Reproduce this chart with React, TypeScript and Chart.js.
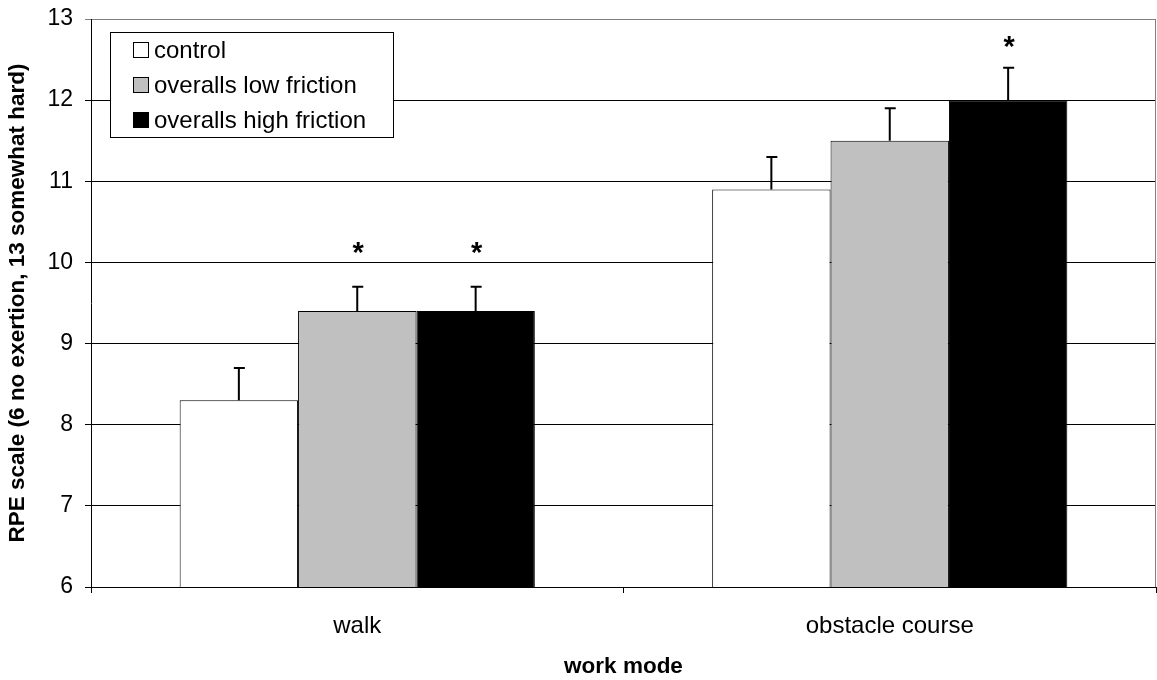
import { useEffect, useRef } from "react";
import { Chart, registerables } from "chart.js";

Chart.register(...registerables);

// Work modes on the x axis
const categories = ["walk", "obstacle course"];

// Series names and fills
const seriesNames = ["control", "overalls low friction", "overalls high friction"];
const seriesColors = ["#ffffff", "#c0c0c0", "#000000"];

// Mean RPE per work mode
const controlValues = [8.3, 10.9];
const lowFrictionValues = [9.4, 11.5];
const highFrictionValues = [9.4, 12.0];

// Upward error (SD) per work mode
const controlErrors = [0.4, 0.4];
const lowFrictionErrors = [0.3, 0.4];
const highFrictionErrors = [0.3, 0.4];

// Height of the significance asterisk per work mode (null = not significant)
const controlStars: (number | null)[] = [null, null];
const lowFrictionStars: (number | null)[] = [10.18, null];
const highFrictionStars: (number | null)[] = [10.18, 12.72];

// Y axis ticks
const yTicks = [6, 7, 8, 9, 10, 11, 12, 13];

const FONT = "'Liberation Sans', Arial, Helvetica, sans-serif";

const errorSets = [controlErrors, lowFrictionErrors, highFrictionErrors];
const starSets = [controlStars, lowFrictionStars, highFrictionStars];

// Error bars, asterisks, frame and the boxed legend inside the plot area
const decorations = {
  id: "decorations",
  afterDatasetsDraw(chart: any) {
    const { ctx, chartArea } = chart;
    const yScale = chart.scales.y;
    ctx.save();

    // right edge of the plot frame
    ctx.strokeStyle = "#808080";
    ctx.lineWidth = 1;
    ctx.beginPath();
    ctx.moveTo(chartArea.right - 0.5, chartArea.top);
    ctx.lineTo(chartArea.right - 0.5, chartArea.bottom);
    ctx.stroke();

    chart.data.datasets.forEach((ds: any, i: number) => {
      const meta = chart.getDatasetMeta(i);
      meta.data.forEach((bar: any, j: number) => {
        const value = ds.data[j];
        const err = errorSets[i][j];
        const yTop = yScale.getPixelForValue(value + err);
        ctx.strokeStyle = "#000";
        ctx.lineWidth = 2;
        ctx.beginPath();
        ctx.moveTo(bar.x, bar.y);
        ctx.lineTo(bar.x, yTop);
        ctx.moveTo(bar.x - 5, yTop);
        ctx.lineTo(bar.x + 6, yTop);
        ctx.stroke();

        const star = starSets[i][j];
        if (star !== null) {
          ctx.fillStyle = "#000";
          ctx.font = `bold 29px ${FONT}`;
          ctx.textAlign = "center";
          ctx.textBaseline = "alphabetic";
          ctx.fillText("*", bar.x + 1, yScale.getPixelForValue(star) + 14);
        }
      });
    });

    // legend box
    const lx = chartArea.left + 19;
    const ly = chartArea.top + 13;
    const lw = 283;
    const lh = 105;
    ctx.fillStyle = "#fff";
    ctx.fillRect(lx, ly, lw, lh);
    ctx.strokeStyle = "#000";
    ctx.lineWidth = 1;
    ctx.strokeRect(lx + 0.5, ly + 0.5, lw, lh);

    ctx.font = `24px ${FONT}`;
    ctx.textAlign = "left";
    ctx.textBaseline = "middle";
    chart.data.datasets.forEach((ds: any, i: number) => {
      const cy = ly + 18 + i * 35;
      ctx.fillStyle = ds.backgroundColor;
      ctx.fillRect(lx + 23, cy - 8, 15, 15);
      ctx.strokeStyle = "#000";
      ctx.strokeRect(lx + 23.5, cy - 7.5, 15, 15);
      ctx.fillStyle = "#000";
      ctx.fillText(ds.label, lx + 44, cy + 1);
    });

    ctx.restore();
  },
};

export default function App() {
  const canvasRef = useRef<HTMLCanvasElement | null>(null);

  useEffect(() => {
    const canvas = canvasRef.current;
    if (!canvas) return;
    const valueSets = [controlValues, lowFrictionValues, highFrictionValues];
    const chart = new Chart(canvas, {
      type: "bar",
      data: {
        labels: categories,
        datasets: seriesNames.map((name, i) => ({
          label: name,
          data: valueSets[i],
          backgroundColor: seriesColors[i],
          borderColor: "#000",
          borderWidth: 1,
          categoryPercentage: 0.667,
          barPercentage: 1,
        })),
      },
      options: {
        responsive: false,
        animation: false,
        devicePixelRatio: 1,
        layout: { padding: { top: 19, right: 1, left: 0, bottom: 0 } },
        plugins: {
          legend: { display: false },
          tooltip: { enabled: false },
        },
        scales: {
          x: {
            offset: true,
            grid: {
              offset: true,
              drawOnChartArea: false,
              drawTicks: true,
              tickLength: 6,
              color: "#000",
            },
            border: { color: "#000", width: 1 },
            ticks: {
              color: "#000",
              font: { family: FONT, size: 24 },
              padding: 19,
            },
            title: {
              display: true,
              text: "work mode",
              color: "#000",
              font: { family: FONT, size: 22.5, weight: "bold" },
              padding: { top: 0, bottom: 0 },
            },
            afterFit: (s: any) => {
              s.height = 93;
              s.paddingLeft = 0;
              s.paddingRight = 0;
            },
          },
          y: {
            min: 6,
            max: 13,
            afterBuildTicks: (s: any) => {
              s.ticks = yTicks.map((v) => ({ value: v }));
            },
            grid: {
              color: (c: any) => (c.tick && c.tick.value === 13 ? "#808080" : "#000"),
              lineWidth: 1,
              tickLength: 6,
            },
            border: { color: "#000", width: 1 },
            ticks: {
              color: "#000",
              font: { family: FONT, size: 23 },
              padding: 12,
            },
            title: {
              display: true,
              text: "RPE scale (6 no exertion, 13 somewhat hard)",
              color: "#000",
              font: { family: FONT, size: 22.5, weight: "bold" },
              padding: { top: 4, bottom: 0 },
            },
            afterFit: (s: any) => {
              s.width = 91;
              s.paddingTop = 0;
              s.paddingBottom = 0;
            },
          },
        },
      },
      plugins: [decorations],
    });
    return () => chart.destroy();
  }, []);

  return (
    <div style={{ position: "absolute", left: 0, top: 0, width: 1157, height: 680, background: "#fff" }}>
      <canvas ref={canvasRef} width={1157} height={680} />
    </div>
  );
}
